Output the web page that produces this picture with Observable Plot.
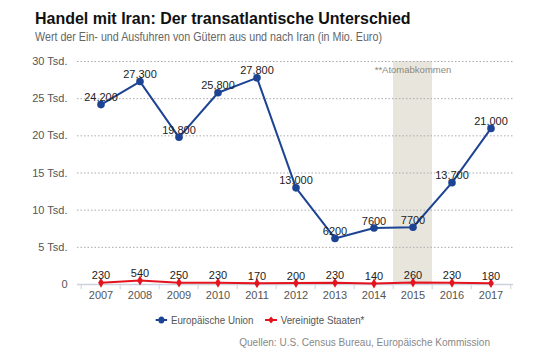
<!DOCTYPE html>
<html>
<head>
<meta charset="utf-8">
<script src="https://cdn.jsdelivr.net/npm/d3@7"></script>
<script src="https://cdn.jsdelivr.net/npm/@observablehq/plot@0.6"></script>
<style>
  html, body { margin: 0; padding: 0; background: #fff; }
  body { width: 550px; height: 356px; position: relative; overflow: hidden; font-family: "Liberation Sans", Arial, sans-serif; }
  #title { position: absolute; left: 35px; top: 9px; font: bold 17px "Liberation Sans", sans-serif; color: #111; white-space: nowrap; transform: scaleX(0.94); transform-origin: left center; }
  #subtitle { position: absolute; left: 35px; top: 30px; font-size: 12.5px; color: #666; white-space: nowrap; transform: scaleX(0.857); transform-origin: left center; }
  #chart { position: absolute; left: 0; top: 48px; }
  #legend { position: absolute; left: 0; width: 520px; top: 314px; display: flex; justify-content: center; gap: 14px; font-size: 11.5px; color: #555; transform: scaleX(0.85); transform-origin: 260px center; }
  #legend .item { display: flex; align-items: center; gap: 4px; }
  #source { position: absolute; right: 60px; top: 336px; font-size: 11.5px; color: #888; white-space: nowrap; transform: scaleX(0.874); transform-origin: right center; }
</style>
</head>
<body>
<div id="title">Handel mit Iran: Der transatlantische Unterschied</div>
<div id="subtitle">Wert der Ein- und Ausfuhren von Gütern aus und nach Iran (in Mio. Euro)</div>
<div id="chart"></div>
<div id="legend"></div>
<div id="source">Quellen: U.S. Census Bureau, Europäische Kommission</div>
<script>
const years = ["2007","2008","2009","2010","2011","2012","2013","2014","2015","2016","2017"];
const euValues = [24200, 27300, 19800, 25800, 27800, 13000, 6200, 7600, 7700, 13700, 21000];
const euLabels = ["24,200","27,300","19,800","25,800","27,800","13,000","6200","7600","7700","13,700","21,000"];
const usValues = [230, 540, 250, 230, 170, 200, 230, 140, 260, 230, 180];
const usLabels = ["230","540","250","230","170","200","230","140","260","230","180"];
const yTicks = [0, 5000, 10000, 15000, 20000, 25000, 30000];
const bandYears = ["2015"];
const bandNote = "**Atomabkommen";
const seriesNames = ["Europäische Union", "Vereinigte Staaten*"];
const colors = ["#1d4494", "#e3141e"];

const eu = years.map((y, i) => ({year: y, value: euValues[i], label: euLabels[i]}));
const us = years.map((y, i) => ({year: y, value: usValues[i], label: usLabels[i]}));

const W = 550, H = 260, mL = 77, mR = 37, mT = 13, mB = 24;
const step = (W - mL - mR) / years.length;
const fontFam = "'Liberation Sans', sans-serif";

const chart = Plot.plot({
  width: W, height: H,
  marginLeft: mL, marginRight: mR, marginTop: mT, marginBottom: mB,
  style: {fontFamily: fontFam, fontSize: "11px", background: "transparent"},
  x: {type: "band", domain: years, padding: 0, label: null, tickSize: 0, tickPadding: 7},
  y: {domain: [0, 30000], ticks: yTicks, label: null, tickSize: 0, tickPadding: 10,
      tickFormat: d => d === 0 ? "0" : (d / 1000) + " Tsd."},
  marks: [
    Plot.barY(bandYears, {x: d => d, y1: 0, y2: 30000, fill: "#e8e5dd"}),
    Plot.ruleY(yTicks.slice(1), {stroke: "#aaa", strokeDasharray: "1.5,2", strokeWidth: 1}),
    Plot.ruleX(years, {x: d => d, dx: -step / 2, y1: 0, y2: -700, stroke: "#ccd3dd"}),
    Plot.ruleX(years.slice(-1), {x: d => d, dx: step / 2, y1: 0, y2: -700, stroke: "#ccd3dd"}),
    Plot.ruleY([0], {stroke: "#ccd3dd", strokeWidth: 1.5}),
    Plot.text(bandYears, {x: d => d, y: 30000, text: () => bandNote, dy: 8, fill: "#8d887c", fontSize: 9.5}),
    Plot.line(eu, {x: "year", y: "value", stroke: colors[0], strokeWidth: 2}),
    Plot.dot(eu, {x: "year", y: "value", r: 3.8, fill: colors[0], stroke: null}),
    Plot.line(us, {x: "year", y: "value", stroke: colors[1], strokeWidth: 2}),
    Plot.dot(us, {x: "year", y: "value", r: 3, symbol: "diamond", fill: colors[1], stroke: null}),
    Plot.text(eu, {x: "year", y: "value", text: "label", dy: -7, fill: "#222", fontSize: 11}),
    Plot.text(us, {x: "year", y: "value", text: "label", dy: -7, fill: "#222", fontSize: 11}),
    Plot.axisX({tickSize: 0, tickPadding: 7, fill: "#555", fontSize: 11}),
    Plot.axisY({ticks: yTicks, tickSize: 0, tickPadding: 10, fill: "#555", fontSize: 11,
      tickFormat: d => d === 0 ? "0" : (d / 1000) + " Tsd."})
  ]
});
document.getElementById("chart").appendChild(chart);

const legend = document.getElementById("legend");
seriesNames.forEach((name, i) => {
  const item = document.createElement("div");
  item.className = "item";
  const sym = i === 0
    ? `<svg width="14" height="10"><line x1="0" y1="5" x2="14" y2="5" stroke="${colors[0]}" stroke-width="2"/><circle cx="7" cy="5" r="3.5" fill="${colors[0]}"/></svg>`
    : `<svg width="14" height="10"><line x1="0" y1="5" x2="14" y2="5" stroke="${colors[1]}" stroke-width="2"/><path d="M7,1.5 L10.5,5 L7,8.5 L3.5,5Z" fill="${colors[1]}"/></svg>`;
  item.innerHTML = sym + `<span>${name}</span>`;
  legend.appendChild(item);
});
</script>
</body>
</html>
